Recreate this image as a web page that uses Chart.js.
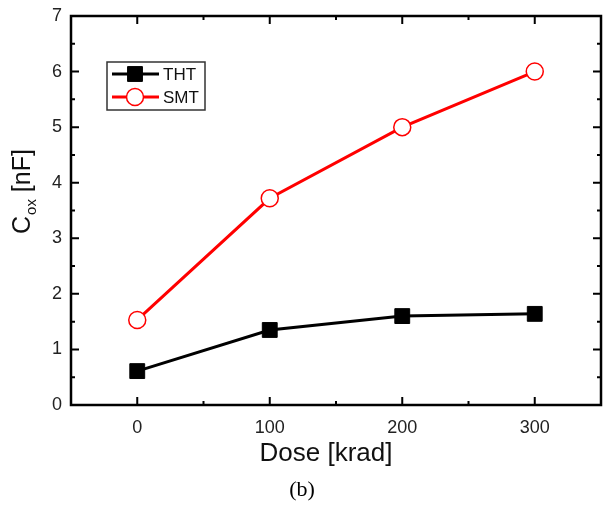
<!DOCTYPE html>
<html>
<head>
<meta charset="utf-8">
<script src="https://cdn.jsdelivr.net/npm/chart.js@4.4.1/dist/chart.umd.min.js"></script>
<style>
  html, body { margin: 0; padding: 0; background: #fff; }
  #wrap { width: 604px; height: 508px; }
</style>
</head>
<body>
<div id="wrap"><canvas id="chart" width="604" height="508"></canvas></div>
<script>
// data
const doses = [0, 100, 200, 300]
const tht = [0.61, 1.35, 1.60, 1.64]
const smt = [1.53, 3.72, 5.00, 6.00]
const xTicks = [0, 100, 200, 300]
const yTicks = [0, 1, 2, 3, 4, 5, 6, 7]

const FONT = "'Liberation Sans', Arial, sans-serif"

function pts(vals) {
  return doses.map((d, i) => ({ x: d, y: vals[i] }))
}

// frame, inward ticks, legend and axis titles
const decor = {
  id: 'decor',
  afterDraw(chart) {
    const ctx = chart.ctx
    const a = chart.chartArea
    const xs = chart.scales.x, ys = chart.scales.y
    ctx.save()
    ctx.strokeStyle = '#000'
    ctx.lineWidth = 2.5
    ctx.strokeRect(a.left, a.top, a.right - a.left, a.bottom - a.top)

    ctx.lineWidth = 2
    ctx.beginPath()
    for (let v = -50; v <= 350; v += 50) {
      const px = xs.getPixelForValue(v)
      const len = v % 100 === 0 ? 8 : 4
      ctx.moveTo(px, a.bottom); ctx.lineTo(px, a.bottom - len)
      ctx.moveTo(px, a.top); ctx.lineTo(px, a.top + len)
    }
    for (let v = 0; v <= 7; v += 0.5) {
      const py = ys.getPixelForValue(v)
      const len = Number.isInteger(v) ? 8 : 4
      ctx.moveTo(a.left, py); ctx.lineTo(a.left + len, py)
      ctx.moveTo(a.right, py); ctx.lineTo(a.right - len, py)
    }
    ctx.stroke()

    // legend
    const lx = 107, ly = 62, lw = 98, lh = 48
    ctx.lineWidth = 1.5
    ctx.strokeStyle = '#333'
    ctx.strokeRect(lx, ly, lw, lh)
    chart.data.datasets.forEach((ds, i) => {
      const y = ly + 12 + i * 23
      ctx.strokeStyle = ds.borderColor
      ctx.lineWidth = 3
      ctx.beginPath()
      ctx.moveTo(lx + 5, y); ctx.lineTo(lx + 52, y)
      ctx.stroke()
      ctx.fillStyle = ds.pointBackgroundColor
      ctx.strokeStyle = ds.borderColor
      ctx.lineWidth = ds.pointBorderWidth
      ctx.beginPath()
      if (ds.pointStyle === 'rect') {
        const s = ds.pointRadius * Math.SQRT1_2
        ctx.rect(lx + 28 - s, y - s, 2 * s, 2 * s)
      } else {
        ctx.arc(lx + 28, y, ds.pointRadius, 0, Math.PI * 2)
      }
      ctx.fill(); ctx.stroke()
      ctx.fillStyle = '#111'
      ctx.font = '17px ' + FONT
      ctx.textAlign = 'left'
      ctx.textBaseline = 'middle'
      ctx.fillText(ds.label, lx + 56, y + 1)
    })

    // x title
    ctx.fillStyle = '#111'
    ctx.font = '26px ' + FONT
    ctx.textAlign = 'center'
    ctx.textBaseline = 'middle'
    ctx.fillText('Dose [krad]', 326, 454)

    // y title with subscript
    ctx.translate(22, 234)
    ctx.rotate(-Math.PI / 2)
    ctx.textAlign = 'left'
    ctx.textBaseline = 'alphabetic'
    ctx.font = '25px ' + FONT
    ctx.fillText('C', 0, 8)
    let w = ctx.measureText('C').width
    ctx.font = '15px ' + FONT
    ctx.fillText('ox', w + 1, 14)
    w += ctx.measureText('ox').width + 1
    ctx.font = '25px ' + FONT
    ctx.fillText(' [nF]', w, 8)
    ctx.restore()

    // caption
    ctx.save()
    ctx.fillStyle = '#000'
    ctx.font = '22px "Liberation Serif", "Times New Roman", serif'
    ctx.textAlign = 'center'
    ctx.textBaseline = 'middle'
    ctx.fillText('(b)', 302, 490)
    ctx.restore()
  }
}

new Chart(document.getElementById('chart'), {
  type: 'line',
  data: {
    datasets: [{
      label: 'THT',
      data: pts(tht),
      borderColor: '#000',
      backgroundColor: '#000',
      pointBackgroundColor: '#000',
      pointStyle: 'rect',
      pointRadius: 10.5,
      pointBorderWidth: 1,
      borderWidth: 3
    }, {
      label: 'SMT',
      data: pts(smt),
      borderColor: '#ff0000',
      backgroundColor: '#fff',
      pointBackgroundColor: '#fff',
      pointStyle: 'circle',
      pointRadius: 8.5,
      pointBorderWidth: 1.5,
      borderWidth: 3
    }]
  },
  options: {
    responsive: false,
    animation: false,
    layout: { autoPadding: false, padding: { top: 16, right: 3, left: 0, bottom: 0 } },
    plugins: { legend: { display: false }, tooltip: { enabled: false } },
    scales: {
      x: {
        type: 'linear',
        min: -50,
        max: 350,
        afterBuildTicks: s => { s.ticks = xTicks.map(v => ({ value: v })) },
        afterFit: s => { s.height = 103; s.paddingLeft = 0; s.paddingRight = 0 },
        grid: { display: false, drawTicks: false },
        border: { display: false },
        ticks: { padding: 12, color: '#222', font: { family: FONT, size: 18 } }
      },
      y: {
        min: 0,
        max: 7,
        afterBuildTicks: s => { s.ticks = yTicks.map(v => ({ value: v })) },
        afterFit: s => { s.width = 71; s.paddingTop = 0; s.paddingBottom = 0 },
        grid: { display: false, drawTicks: false },
        border: { display: false },
        ticks: { padding: 9, color: '#222', font: { family: FONT, size: 18 } }
      }
    }
  },
  plugins: [decor]
})
</script>
</body>
</html>
